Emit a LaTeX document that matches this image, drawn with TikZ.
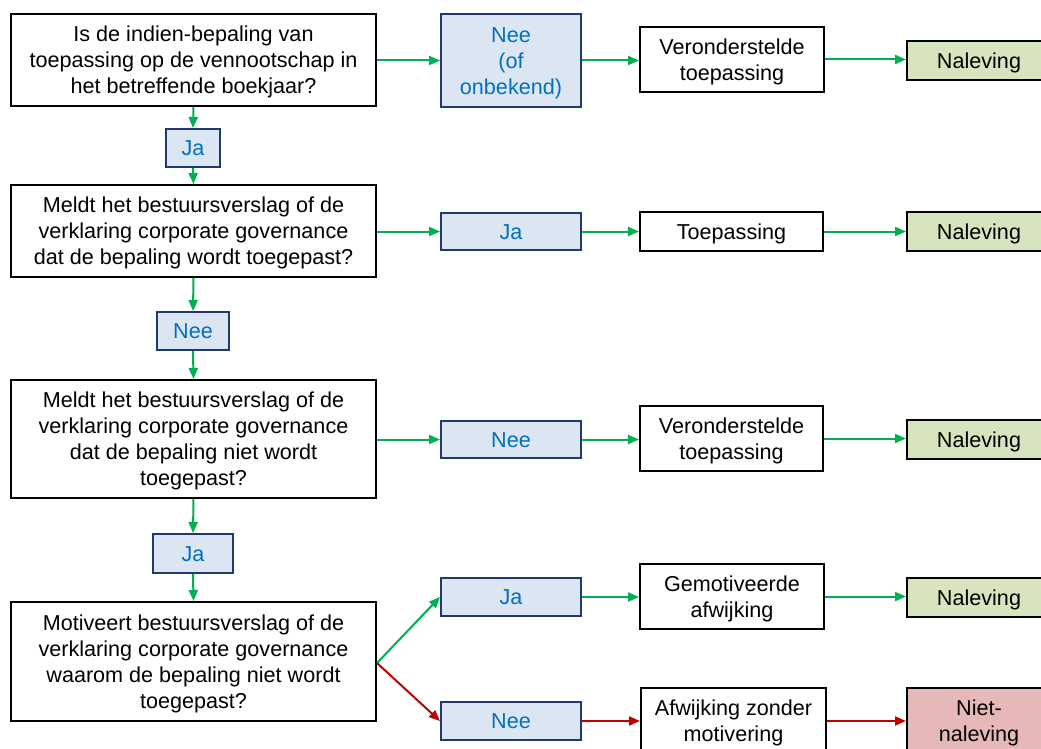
\documentclass[tikz,border=0pt]{standalone}
\usepackage{fontspec}
\setmainfont{Liberation Sans}
\usetikzlibrary{arrows.meta}
\definecolor{flowgreen}{HTML}{00B050}
\definecolor{flowred}{HTML}{C00000}
\definecolor{ansfill}{HTML}{DCE6F2}
\definecolor{ansdraw}{HTML}{1F3A6E}
\definecolor{anstext}{HTML}{0070C0}
\definecolor{okfill}{HTML}{D7E4BD}
\definecolor{badfill}{HTML}{E6B9B8}
% centred lines, set a little lower than the box centre
\newcommand{\cell}[1]{\raisebox{-2.5pt}[\height][\depth]{\begin{tabular}{@{}c@{}}#1\end{tabular}}}
\begin{document}
\begin{tikzpicture}[x=1pt,y=-1pt,
  box/.style={draw=black,line width=2pt,fill=white,inner sep=0pt,
    font=\fontsize{21.6}{26}\selectfont,text=black},
  question/.style={box,minimum width=365pt},
  answer/.style={box,draw=ansdraw,fill=ansfill,text=anstext,minimum width=140pt},
  result/.style={box,minimum width=184pt},
  verdict/.style={box,minimum width=144pt},
  good/.style={verdict,fill=okfill},
  bad/.style={verdict,fill=badfill},
  yes/.style={draw=flowgreen,line width=2pt,-{Triangle[length=11pt,width=9pt]}},
  no/.style={draw=flowred,line width=2pt,-{Triangle[length=11pt,width=9pt]}}]
\path[use as bounding box] (0,0) rectangle (1041,749);
\clip (0,0) rectangle (1041,749);

% left column: questions and their answers
\node[question,minimum height=92pt] (q1) at (193.5,60)
  {\cell{Is de indien-bepaling van\\toepassing op de vennootschap in\\het betreffende boekjaar?}};
\node[answer,minimum width=54pt,minimum height=38pt] (ja1) at (193,148) {\cell{Ja}};
\node[question,minimum height=92pt] (q2) at (193.5,231)
  {\cell{Meldt het bestuursverslag of de\\verklaring corporate governance\\dat de bepaling wordt toegepast?}};
\node[answer,minimum width=72pt,minimum height=38pt] (nee2) at (193,331) {\cell{Nee}};
\node[question,minimum height=118pt] (q3) at (193.5,439)
  {\cell{Meldt het bestuursverslag of de\\verklaring corporate governance\\dat de bepaling niet wordt\\toegepast?}};
\node[answer,minimum width=80pt,minimum height=39pt] (ja3) at (193,553.5) {\cell{Ja}};
\node[question,minimum height=119pt] (q4) at (193.5,661.5)
  {\cell{Motiveert bestuursverslag of de\\verklaring corporate governance\\waarom de bepaling niet wordt\\toegepast?}};

% second column: outcomes of each question
\node[answer,minimum height=93pt] (a1) at (511,60.5) {\cell{Nee\\(of\\onbekend)}};
\node[answer,minimum height=37pt] (a2) at (511,231.5) {\cell{Ja}};
\node[answer,minimum height=37pt] (a3) at (511,439.5) {\cell{Nee}};
\node[answer,minimum height=38pt] (a4) at (511,597) {\cell{Ja}};
\node[answer,minimum height=38pt] (a5) at (511,721) {\cell{Nee}};

% third column: qualification
\node[result,minimum height=65pt] (r1) at (732,59.5) {\cell{Veronderstelde\\toepassing}};
\node[result,minimum width=183pt,minimum height=39pt] (r2) at (731.5,231.5) {\cell{Toepassing}};
\node[result,minimum width=183pt,minimum height=65pt] (r3) at (731.5,438.5) {\cell{Veronderstelde\\toepassing}};
\node[result,minimum height=65pt] (r4) at (732,596.5) {\cell{Gemotiveerde\\afwijking}};
\node[result,minimum width=185pt,minimum height=66pt] (r5) at (733.5,721) {\cell{Afwijking zonder\\motivering}};

% fourth column: verdict
\node[good,minimum height=39pt] (n1) at (979,60.5) {\cell{Naleving}};
\node[good,minimum height=39pt] (n2) at (979,231.5) {\cell{Naleving}};
\node[good,minimum height=39pt] (n3) at (979,439.5) {\cell{Naleving}};
\node[good,minimum height=39pt] (n4) at (979,597.5) {\cell{Naleving}};
\node[bad,minimum height=66pt] (n5) at (979,721) {\cell{Niet-\\naleving}};

% vertical flow
\draw[yes] (q1.south) -- (ja1.north);
\draw[yes] (ja1.south) -- (q2.north);
\draw[yes] (q2.south) -- (nee2.north);
\draw[yes] (nee2.south) -- (q3.north);
\draw[yes] (q3.south) -- (ja3.north);
\draw[yes] (ja3.south) -- (q4.north);

% horizontal flow
\draw[yes] (q1.east |- a1.west) -- (a1.west);
\draw[yes] (a1.east) -- (a1.east -| r1.west);
\draw[yes] (r1.east) -- (r1.east -| n1.west);
\draw[yes] (q2.east |- a2.west) -- (a2.west);
\draw[yes] (a2.east) -- (a2.east -| r2.west);
\draw[yes] (r2.east) -- (r2.east -| n2.west);
\draw[yes] (q3.east |- a3.west) -- (a3.west);
\draw[yes] (a3.east) -- (a3.east -| r3.west);
\draw[yes] (r3.east) -- (r3.east -| n3.west);
\coordinate (split) at ([yshift=-1.5pt]q4.east);
\draw[yes] (split) -- (a4.west);
\draw[yes] (a4.east) -- (a4.east -| r4.west);
\draw[yes] (r4.east) -- (r4.east -| n4.west);
\draw[no] (split) -- (a5.west);
\draw[no] (a5.east) -- (a5.east -| r5.west);
\draw[no] (r5.east) -- (r5.east -| n5.west);
\end{tikzpicture}
\end{document}
